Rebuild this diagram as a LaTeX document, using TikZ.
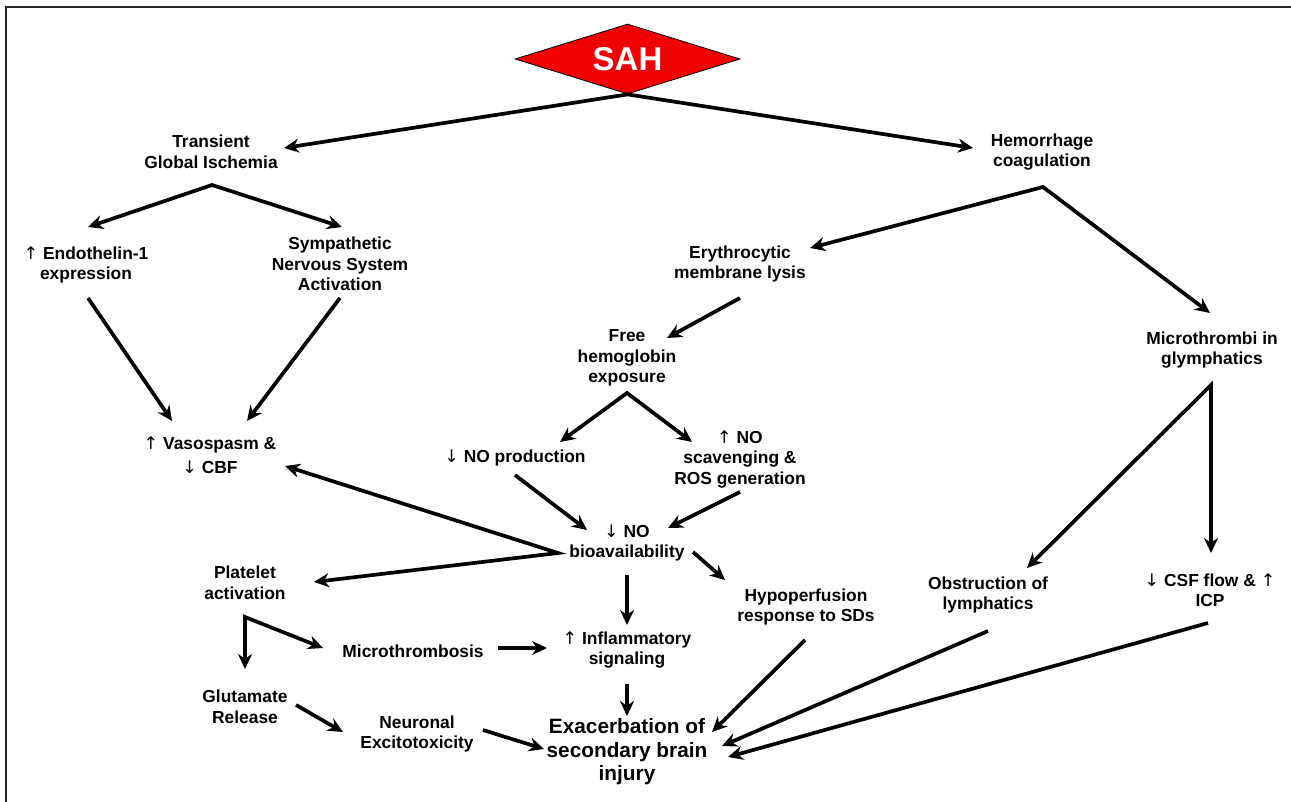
\documentclass[tikz,border=0pt]{standalone}
\usepackage{fontspec}
\setmainfont{Liberation Sans}
\newfontfamily\arrfont{DejaVu Sans}
\usepackage{tikz}
\usetikzlibrary{arrows.meta, shapes.geometric, calc}
\definecolor{sahred}{RGB}{240,0,0}
\newcommand{\uparr}{{\arrfont\mdseries ↑}}
\newcommand{\dnarr}{{\arrfont\mdseries ↓}}

\begin{document}
\begin{tikzpicture}[x=1pt, y=-1pt, ->, >={Stealth[length=15pt,width=14pt]}, line width=3.7pt,
	txt/.style={align=center, inner sep=0pt, font=\bfseries\fontsize{17.4}{20.5}\selectfont},
	big/.style={align=center, inner sep=0pt, font=\bfseries\fontsize{20.8}{23.5}\selectfont}]
	\useasboundingbox (0,0) rectangle (1291,802);
	\draw[-, line width=2pt, black!85] (6,802) -- (6,7) -- (1291,7);
	
	% States
	\node[diamond, draw, fill=sahred, aspect=3.2, minimum width=225pt, minimum height=70pt, inner sep=0pt, line width=0.8pt, text=white, font=\bfseries\fontsize{33}{36}\selectfont] (sah) at (627.5,59) {SAH};
	\node[txt] (tgi) at (211,152) {Transient\\Global Ischemia};
	\node[txt] (hem) at (1042,152) {Hemorrhage\\coagulation};
	\node[txt] (endo) at (86,265) {\uparr{} Endothelin-1\\expression};
	\node[txt] (symp) at (340,264) {Sympathetic\\Nervous System\\Activation};
	\node[txt] (eryth) at (740,264) {Erythrocytic\\membrane lysis};
	\node[txt] (free) at (627,358) {Free\\hemoglobin\\exposure};
	\node[txt] (micro) at (1212,350) {Microthrombi in\\glymphatics};
	\node[txt] (vaso) at (210,455) {\uparr{} Vasospasm \&\\[3pt]\dnarr{} CBF};
	\node[txt] (noprod) at (515,458) {\dnarr{} NO production};
	\node[txt] (noscav) at (740,459) {\uparr{} NO\\scavenging \&\\ROS generation};
	\node[txt] (nobio) at (627,543) {\dnarr{} NO\\bioavailability};
	\node[txt] (plat) at (245,583) {Platelet\\activation};
	\node[txt] (hypo) at (806,607) {Hypoperfusion\\response to SDs};
	\node[txt] (obst) at (988,595) {Obstruction of\\lymphatics};
	\node[txt] (csf) at (1210,590) {\dnarr{} CSF flow \& \uparr\\ICP};
	\node[txt] (mthr) at (413,651) {Microthrombosis};
	\node[txt] (infl) at (627,650) {\uparr{} Inflammatory\\signaling};
	\node[txt] (glut) at (245,707) {Glutamate\\Release};
	\node[txt] (neur) at (417,734) {Neuronal\\Excitotoxicity};
	\node[big] (exac) at (627,752) {Exacerbation of\\secondary brain\\injury};
	
	% Forks
	\coordinate (tgiFork) at ($(tgi)+(1,33)$);
	\coordinate (hemFork) at ($(hem)+(1,35)$);
	\coordinate (freeFork) at ($(free)+(0,35)$);
	\coordinate (nobioFork) at ($(nobio)+(-69,10)$);
	\coordinate (microFork) at ($(micro)+(-1,35)$);
	\coordinate (platFork) at ($(plat)+(0,34)$);
	
	% Edges
	\draw[<->] ($(tgi)+(73,-4)$) -- (sah.south) -- ($(hem)+(-69,-4)$);
	\draw[<->] ($(endo)+(2,-38)$) -- (tgiFork) -- ($(symp)+(2,-37)$);
	\draw ($(endo)+(2,33)$) -- ($(vaso)+(-38,-34)$);
	\draw ($(symp)+(0,34)$) -- ($(vaso)+(37,-34)$);
	\draw[<->] ($(eryth)+(70,-16)$) -- (hemFork) -- ($(micro)+(-2,-37)$);
	\draw ($(eryth)+(0,34)$) -- ($(free)+(40,-20)$);
	\draw[<->] ($(noprod)+(45,-16)$) -- (freeFork) -- ($(noscav)+(-48,-17)$);
	\draw ($(noprod)+(0,17)$) -- ($(nobio)+(-40,-13)$);
	\draw ($(noscav)+(0,33)$) -- ($(nobio)+(41,-15)$);
	\draw[<->] ($(vaso)+(75,11)$) -- (nobioFork) -- ($(plat)+(69,-1)$);
	\draw ($(nobio)+(0,32)$) -- ($(infl)+(0,-25)$);
	\draw ($(nobio)+(66,9)$) -- ($(hypo)+(-81,-27)$);
	\draw[<->] ($(obst)+(39,-27)$) -- (microFork) -- ($(csf)+(1,-37)$);
	\draw[<->] ($(glut)+(0,-38)$) -- (platFork) -- ($(mthr)+(-90,-3)$);
	\draw ($(mthr)+(85,-3)$) -- ($(infl)+(-80,-2)$);
	\draw ($(infl)+(0,34)$) -- ($(exac)+(0,-36)$);
	\draw ($(glut)+(51,-2)$) -- ($(neur)+(-74,-2)$);
	\draw ($(neur)+(66,-4)$) -- ($(exac)+(-83,-3)$);
	\draw ($(hypo)+(-1,33)$) -- ($(exac)+(85,-20)$);
	\draw ($(obst)+(0,36)$) -- ($(exac)+(95,-6)$);
	\draw ($(csf)+(-2,33)$) -- ($(exac)+(101,5)$);
	
\end{tikzpicture}
\end{document}
